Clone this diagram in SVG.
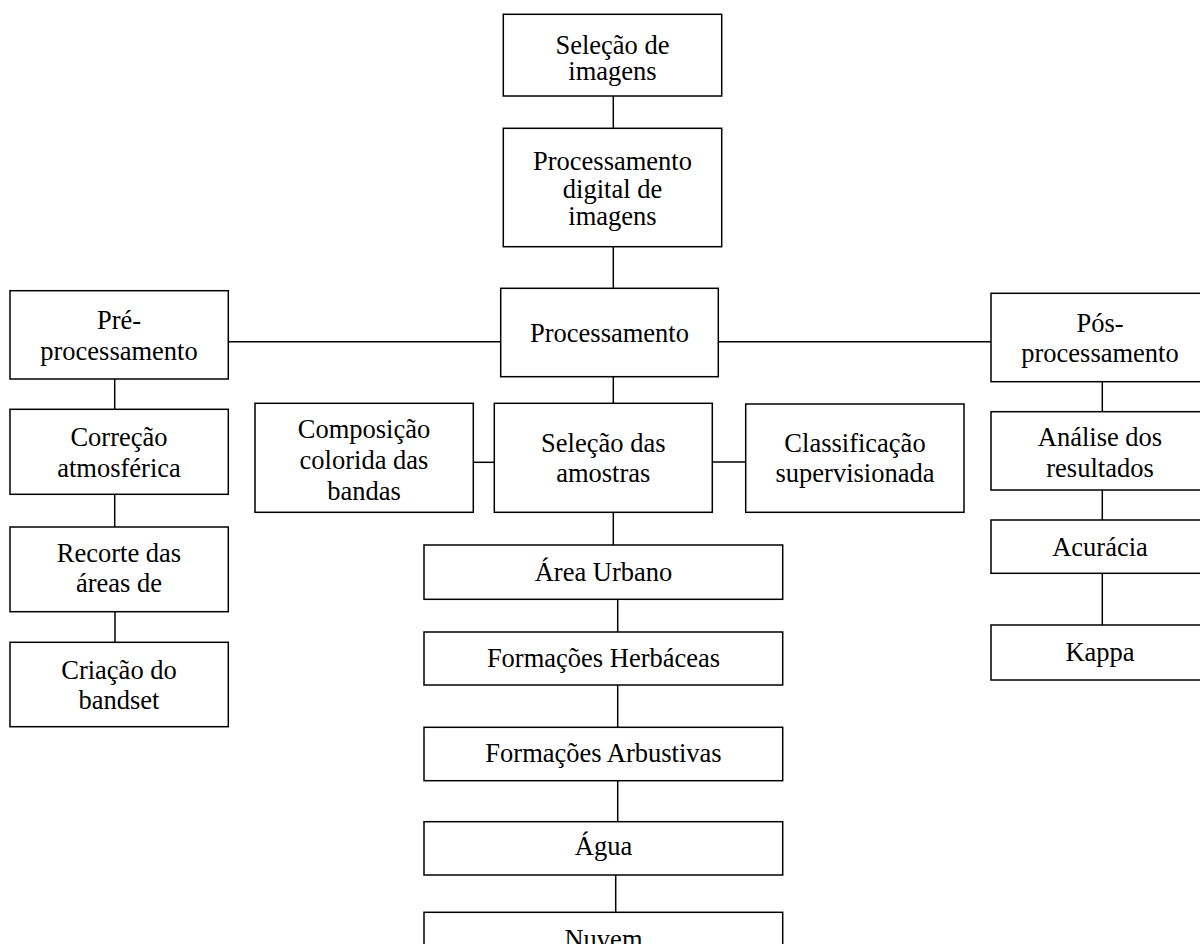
<svg xmlns="http://www.w3.org/2000/svg" width="1200" height="944" viewBox="0 0 1200 944">
<style>
.box{fill:#fff;stroke:#000;stroke-width:1.5}
.ln{stroke:#000;stroke-width:1.5;fill:none}
text{font-family:"Liberation Serif","Times New Roman",serif;font-size:26.5px;fill:#000;text-anchor:middle}
</style>
<rect width="1200" height="944" fill="#fff"/>
<g id="connectors">
<line class="ln" x1="613.3" y1="96" x2="613.3" y2="128"/>
<line class="ln" x1="613.3" y1="247" x2="613.3" y2="288"/>
<line class="ln" x1="228" y1="341.7" x2="500.7" y2="341.7"/>
<line class="ln" x1="718.3" y1="341.7" x2="991" y2="341.7"/>
<line class="ln" x1="114.7" y1="379" x2="114.7" y2="409"/>
<line class="ln" x1="114.7" y1="494" x2="114.7" y2="527"/>
<line class="ln" x1="115" y1="612" x2="115" y2="642"/>
<line class="ln" x1="613.3" y1="377" x2="613.3" y2="403"/>
<line class="ln" x1="473.3" y1="462.3" x2="494.3" y2="462.3"/>
<line class="ln" x1="712.3" y1="462" x2="745.7" y2="462"/>
<line class="ln" x1="613.3" y1="512" x2="613.3" y2="545"/>
<line class="ln" x1="617.7" y1="599" x2="617.7" y2="632"/>
<line class="ln" x1="617.7" y1="685" x2="617.7" y2="727"/>
<line class="ln" x1="617.7" y1="781" x2="617.7" y2="822"/>
<line class="ln" x1="615.7" y1="875" x2="615.7" y2="913"/>
<line class="ln" x1="1102.3" y1="382" x2="1102.3" y2="412"/>
<line class="ln" x1="1102.3" y1="490" x2="1102.3" y2="520"/>
<line class="ln" x1="1102.3" y1="573" x2="1102.3" y2="625"/>
</g>
<g id="selecao-imagens"><rect class="box" x="503.3" y="14.3" width="218.4" height="81.7"/><text x="612.5" y="53.5">Seleção de</text><text x="612.5" y="80">imagens</text></g>
<g id="pdi"><rect class="box" x="503.3" y="128.3" width="218.4" height="118.4"/><text x="612.5" y="170">Processamento</text><text x="612.5" y="197.7">digital de</text><text x="612.5" y="224.5">imagens</text></g>
<g id="processamento"><rect class="box" x="500.7" y="288.3" width="217.6" height="88.4"/><text x="609.5" y="341.7">Processamento</text></g>
<g id="pre"><rect class="box" x="10" y="290.7" width="218.3" height="88.3"/><text x="119" y="329.3">Pré-</text><text x="119" y="360">processamento</text></g>
<g id="correcao"><rect class="box" x="10" y="409.3" width="218.3" height="85"/><text x="119" y="445.7">Correção</text><text x="119" y="476.7">atmosférica</text></g>
<g id="recorte"><rect class="box" x="10" y="527" width="218.3" height="84.7"/><text x="119" y="562.3">Recorte das</text><text x="119" y="591.7">áreas de</text></g>
<g id="criacao"><rect class="box" x="10" y="642.3" width="218.3" height="84.4"/><text x="119" y="679">Criação do</text><text x="119" y="709">bandset</text></g>
<g id="composicao"><rect class="box" x="255" y="403.3" width="218.3" height="109"/><text x="364" y="438.3">Composição</text><text x="364" y="469">colorida das</text><text x="364" y="500">bandas</text></g>
<g id="selecao-amostras"><rect class="box" x="494.3" y="403.3" width="218" height="109"/><text x="603.3" y="451.7">Seleção das</text><text x="603.3" y="481.7">amostras</text></g>
<g id="classificacao"><rect class="box" x="745.7" y="404" width="218.3" height="108.3"/><text x="855" y="452.3">Classificação</text><text x="855" y="481.7">supervisionada</text></g>
<g id="pos"><rect class="box" x="991" y="293.3" width="218.3" height="88.4"/><text x="1100" y="331.7">Pós-</text><text x="1100" y="361.7">processamento</text></g>
<g id="analise"><rect class="box" x="991" y="411.7" width="218.3" height="78.3"/><text x="1100" y="445.7">Análise dos</text><text x="1100" y="476.7">resultados</text></g>
<g id="acuracia"><rect class="box" x="991" y="520" width="218.3" height="53.3"/><text x="1100" y="556">Acurácia</text></g>
<g id="kappa"><rect class="box" x="991" y="625" width="218.3" height="55"/><text x="1100" y="661">Kappa</text></g>
<g id="area-urbano"><rect class="box" x="424" y="545" width="358.7" height="54.3"/><text x="603.5" y="580.7">Área Urbano</text></g>
<g id="herbaceas"><rect class="box" x="424" y="632" width="358.7" height="53"/><text x="603.5" y="666.7">Formações Herbáceas</text></g>
<g id="arbustivas"><rect class="box" x="424" y="727.3" width="358.7" height="53.4"/><text x="603.5" y="761.7">Formações Arbustivas</text></g>
<g id="agua"><rect class="box" x="424" y="821.7" width="358.7" height="53.3"/><text x="603.5" y="855">Água</text></g>
<g id="nuvem"><rect class="box" x="424" y="912.3" width="358.7" height="60"/><text x="603.5" y="948">Nuvem</text></g>
</svg>
